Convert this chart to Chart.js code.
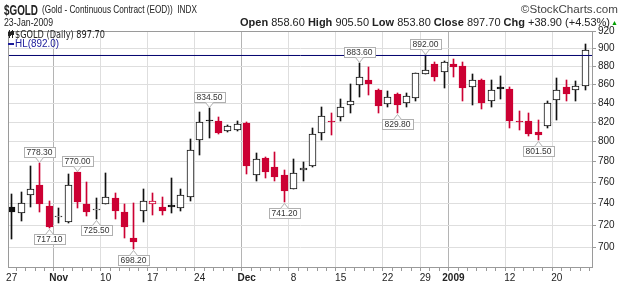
<!DOCTYPE html>
<html><head><meta charset="utf-8">
<script src="https://cdn.jsdelivr.net/npm/chart.js@4.4.1/dist/chart.umd.min.js"></script>
<style>
html,body{margin:0;padding:0;background:#fff;}
#wrap{position:relative;width:625px;height:284px;overflow:hidden;background:#fff;}
canvas{position:absolute;left:0;top:0;}
.t{position:absolute;white-space:nowrap;line-height:1;font-family:'Liberation Sans',Arial,sans-serif;color:#222;}
</style></head><body>
<div id="wrap">
<canvas id="c" width="625" height="284"></canvas>
<div class="t fit" data-w="34" style="left:4px;top:1.5px;font-size:15px;font-weight:bold;transform-origin:0 0">$GOLD</div>
<div class="t fit" data-w="155" style="left:42px;top:3.7px;font-size:11px;transform-origin:0 0">(Gold - Continuous Contract (EOD))&nbsp;&nbsp;INDX</div>
<div class="t fit" data-w="97" style="right:7px;top:4px;font-size:11px;color:#444;transform-origin:100% 0">©StockCharts.com</div>
<div class="t fit" data-w="49" style="left:4px;top:16.7px;font-size:11px;transform-origin:0 0">23-Jan-2009</div>
<div class="t fit" data-w="370" style="right:15px;top:16.7px;font-size:11px;transform-origin:100% 0"><b>Open</b> 858.60 <b>High</b> 905.50 <b>Low</b> 853.80 <b>Close</b> 897.70 <b>Chg</b> +38.90 (+4.53%)</div>
<div class="t" style="left:611px;top:19px;font-size:7px;color:#00a000">▲</div>
<div class="t fit" data-w="90" style="left:15px;top:29px;font-size:10.5px;font-family:'DejaVu Sans',sans-serif;transform-origin:0 0">$GOLD (Daily) 897.70</div>
<div class="t fit" data-w="44" style="left:15px;top:38.5px;font-size:10px;color:#1a1a9a;transform-origin:0 0">HL(892.0)</div>
</div>
<script>
// ---- data ----
const dates = ['Oct 27','Oct 28','Oct 29','Oct 30','Oct 31',
 'Nov 3','Nov 4','Nov 5','Nov 6','Nov 7',
 'Nov 10','Nov 11','Nov 12','Nov 13','Nov 14',
 'Nov 17','Nov 18','Nov 19','Nov 20','Nov 21',
 'Nov 24','Nov 25','Nov 26','Nov 27','Nov 28',
 'Dec 1','Dec 2','Dec 3','Dec 4','Dec 5',
 'Dec 8','Dec 9','Dec 10','Dec 11','Dec 12',
 'Dec 15','Dec 16','Dec 17','Dec 18','Dec 19',
 'Dec 22','Dec 23','Dec 24','Dec 26',
 'Dec 29','Dec 30','Dec 31',
 'Jan 2','Jan 5','Jan 6','Jan 7','Jan 8','Jan 9',
 'Jan 12','Jan 13','Jan 14','Jan 15','Jan 16',
 'Jan 20','Jan 21','Jan 22','Jan 23'];
const opens  = [736.3,731.2,747.5,757.6,737.5, 727.0,723.0,770.0,739.1,734.2, 739.4,745.2,732.2,708.6,733.2, 739.4,736.8,738.2,735.4,745.7,
 802.1,822.5,821.5,811.2,811.5, 818.7,767.3,783.9,774.6,766.7, 753.9,772.0,775.6,809.2,820.6, 824.9,838.1,859.5,864.9,853.7,
 838.8,849.5,839.9,845.8, 871.7,882.1,873.6, 882.1,880.2,857.6,864.5,842.4,857.3, 855.4,821.0,821.5,810.2,816.3, 843.4,857.3,853.5,858.6];
const highs  = [749.2,750.7,775.3,778.3,742.2, 736.0,768.0,770.0,760.7,744.7, 769.4,749.9,739.1,740.0,753.9, 750.2,745.7,764.3,753.3,802.8,
 830.8,834.5,824.9,817.3,821.5, 819.6,788.4,785.0,790.0,772.0, 782.9,780.0,813.5,835.3,830.0, 844.1,860.8,883.6,879.4,854.5,
 853.0,850.5,851.2,873.0, 892.0,885.0,885.7, 888.3,885.0,871.0,866.3,864.5,869.2, 857.3,831.8,830.0,822.6,842.4, 866.7,864.5,863.8,905.5];
const lows   = [707.2,723.6,736.3,732.2,717.1, 722.0,721.5,735.4,728.1,725.5, 739.0,725.1,708.1,698.2,723.0, 729.0,729.6,731.2,732.7,742.2,
 786.8,803.8,807.9,810.0,811.2, 767.5,761.1,764.0,761.6,741.2, 753.5,761.1,775.0,802.1,806.8, 820.7,829.0,846.6,848.4,829.4,
 835.3,829.8,835.3,842.4, 871.5,863.8,856.5, 868.1,842.4,837.8,834.2,835.3,844.1, 813.9,811.9,805.4,801.5,813.9, 822.6,842.4,842.4,853.8];
const closes = [732.2,740.6,753.9,739.1,718.0, 727.2,757.0,741.5,731.6,734.5, 746.2,732.9,717.8,705.1,742.2, 741.8,732.7,736.3,748.1,791.8,
 820.4,820.8,808.8,815.6,818.0, 775.6,782.9,769.8,765.0,751.7, 768.9,774.0,807.9,826.3,820.2, 836.0,842.0,868.1,860.2,837.0,
 846.6,837.8,847.7,872.2, 875.5,868.4,884.7, 879.1,856.5,864.9,840.5,853.5,854.5, 820.7,820.3,807.9,806.8,839.9, 853.7,849.5,858.8,897.7];
const prevClose = 725.0;
const hlValue = 892.0;
const yTicks = [700,720,740,760,780,800,820,840,860,880,900,920];
const tickIndex = [0,5,10,15,20,25,30,35,40,44,47,53,58];
const tickText  = ['27','Nov','10','17','24','Dec','8','15','22','29','2009','12','20'];
const monthTicks = ['Nov','Dec','2009'];
const annIndex = [3,4,7,9,13,21,29,37,41,44,56];
const annKind  = ['h','l','h','l','l','h','l','h','l','h','l'];

// ---- styling ----
const RED = '#cc0033', BLK = '#111111';
const FONT = "'Liberation Sans', Arial, sans-serif";
const dirColor = closes.map((c,i)=> c >= (i ? closes[i-1] : prevClose) ? BLK : RED);
const bodyFill = closes.map((c,i)=> c >= opens[i] ? '#ffffff' : dirColor[i]);

const bodyData = opens.map((o,i)=>({x:i, y:[o, closes[i]]}));
const wickData = highs.map((h,i)=>({x:i, y:[lows[i], h]}));
const xMin = -0.39, xMax = 61.85;

const frame = {
  id:'frame',
  beforeDraw(chart){
    const c = chart.ctx; c.save(); c.fillStyle='#fff'; c.fillRect(0,0,chart.width,chart.height); c.restore();
  },
  beforeDatasetsDraw(chart){
    // snap candle elements to whole pixels for crisp lines
    [1,2].forEach(di=>{
      chart.getDatasetMeta(di).data.forEach(el=>{
        el.x = Math.floor(el.x) + 0.5;
        let a = Math.round(el.y), b = Math.round(el.base);
        if (Math.abs(a-b) < 1) b = a + 1;
        el.y = a; el.base = b;
      });
    });
  },
  afterDatasetsDraw(chart){
    const c = chart.ctx, a = chart.chartArea;
    const xs = chart.scales.x, ys = chart.scales.y;
    c.save();
    c.strokeStyle = '#9a9a9a'; c.lineWidth = 1;
    c.strokeRect(Math.round(a.left)+0.5, Math.round(a.top)+0.5, Math.round(a.right-a.left)-1, Math.round(a.bottom-a.top)-1);
    // annotations
    c.font = '8.5px ' + FONT; c.textAlign='center'; c.textBaseline='middle';
    annIndex.forEach((i,k)=>{
      const isH = annKind[k]==='h';
      const v = isH ? highs[i] : lows[i];
      const txt = v.toFixed(2);
      const x = Math.floor(xs.getPixelForValue(i)) + 0.5;
      const yv = ys.getPixelForValue(v);
      const w = Math.round(c.measureText(txt).width) + 5, h = 10;
      let tip, edge, top;
      if (isH){ tip = Math.round(yv) - 1; edge = tip - 5; top = edge - h; }
      else { tip = Math.round(yv) + 1; edge = tip + 5; top = edge; }
      const left = Math.round(x - w/2) + 0.5;
      c.fillStyle='#fff'; c.strokeStyle='#b0b0b0';
      c.fillRect(left, top+0.5, w, h); c.strokeRect(left, top+0.5, w, h);
      c.beginPath(); c.moveTo(x-4, edge+0.5); c.lineTo(x, tip+0.5); c.lineTo(x+4, edge+0.5); c.closePath();
      c.fill();
      c.beginPath(); c.moveTo(x-4, edge+0.5); c.lineTo(x, tip+0.5); c.lineTo(x+4, edge+0.5); c.stroke();
      c.fillStyle='#333'; c.fillText(txt, x, top + h/2 + 1);
    });
    // legend icon
    c.fillStyle='#222';
    c.fillRect(9,30,1,8); c.fillRect(8,32,3,4);
    c.fillRect(12,30,1,8); c.fillRect(11,31,3,4);
    c.fillStyle='#1a1a9a'; c.fillRect(8,43,6,2);
    c.restore();
  }
};

const chart = new Chart(document.getElementById('c'), {
  type:'bar',
  data:{ datasets:[
    { type:'line', data:[{x:xMin,y:hlValue},{x:xMax,y:hlValue}], borderColor:'#00006e', borderWidth:1, pointRadius:0, order:0 },
    { data: bodyData, backgroundColor: bodyFill, borderColor: dirColor, borderWidth:1, barThickness:7, minBarLength:1, borderSkipped:false, grouped:false, order:1 },
    { data: wickData, backgroundColor: dirColor, borderWidth:0, barThickness:1, grouped:false, order:2 }
  ]},
  options:{
    responsive:false, devicePixelRatio:1, animation:false,
    layout:{ padding:{left:8, top:31, right:0, bottom:0} },
    plugins:{ legend:{display:false}, tooltip:{enabled:false} },
    scales:{
      x:{ type:'linear', min:xMin, max:xMax, offset:false,
        afterBuildTicks: s => { s.ticks = dates.map((d,i)=>({value:i})); },
        afterFit: s => { s.height = 16; },
        ticks:{ autoSkip:false, maxRotation:0, minRotation:0, padding:1, color:'#222',
          callback: v => { const k = tickIndex.indexOf(v); return k<0 ? '' : tickText[k]; },
          font: ctx => { const k = tickIndex.indexOf(ctx.tick && ctx.tick.value); const b = k>=0 && monthTicks.includes(tickText[k]); return {family:FONT, size:10, weight: b?'bold':'normal'}; } },
        grid:{ tickLength:3, tickColor:'#9a9a9a',
          color: ctx => { const v = ctx.tick ? ctx.tick.value : -1; const k = tickIndex.indexOf(v); if (k<0) return 'rgba(0,0,0,0)'; return monthTicks.includes(tickText[k]) ? '#b4b4b4' : '#dedede'; } },
        border:{display:false}
      },
      y:{ type:'logarithmic', position:'right', min:682, max:920,
        afterBuildTicks: s => { s.ticks = yTicks.map(v=>({value:v})); },
        afterFit: s => { s.width = 32; },
        ticks:{ padding:2, color:'#222', font:{family:FONT, size:10}, callback: v => String(v) },
        grid:{ color:'#dedede', tickLength:3, tickColor:'#9a9a9a' },
        border:{display:false}
      }
    }
  },
  plugins:[frame]
});

document.querySelectorAll('.fit').forEach(el=>{
  const t = +el.dataset.w; const w = el.getBoundingClientRect().width;
  if (w>0) el.style.transform = 'scaleX(' + (t/w).toFixed(4) + ')';
});
</script>
</body></html>
